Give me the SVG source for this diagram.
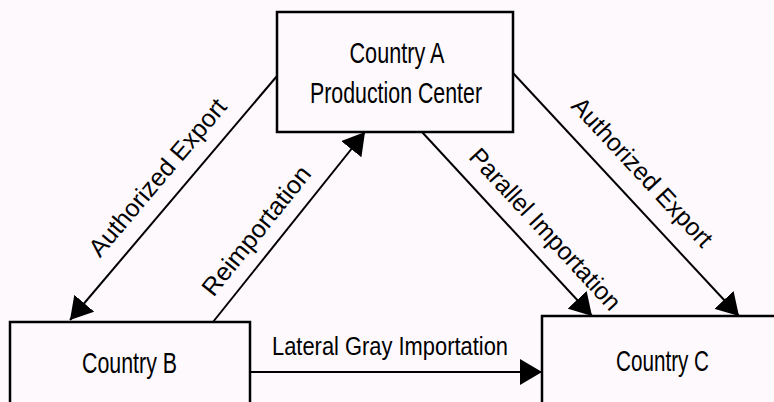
<svg xmlns="http://www.w3.org/2000/svg" width="774" height="402" viewBox="0 0 774 402">
<style>
.box{fill:none;stroke:#000;stroke-width:2.5}
.edge{fill:none;stroke:#000;stroke-width:2}
.nl{font-family:"Liberation Sans","DejaVu Sans",sans-serif;font-size:30px;fill:#000;text-anchor:middle}
.el{font-family:"Liberation Sans","DejaVu Sans",sans-serif;font-size:25px;fill:#000;text-anchor:middle}
</style>
<defs>
<marker id="ah" viewBox="0 0 22 26" refX="22" refY="13" markerWidth="22" markerHeight="26" markerUnits="userSpaceOnUse" orient="auto">
<path d="M0,0 L22,13 L0,26 Z" fill="#000"/>
</marker>
</defs>
<rect x="0" y="0" width="774" height="402" fill="#fdf9fd"/>
<g id="nodeA">
<rect class="box" x="277" y="12" width="236" height="120"/>
<text class="nl" x="397" y="63" textLength="95" lengthAdjust="spacingAndGlyphs">Country A</text>
<text class="nl" x="396" y="103" textLength="172" lengthAdjust="spacingAndGlyphs">Production Center</text>
</g>
<g id="nodeB">
<rect class="box" x="10" y="322" width="240" height="100"/>
<text class="nl" x="129.5" y="373" textLength="95" lengthAdjust="spacingAndGlyphs">Country B</text>
</g>
<g id="nodeC">
<rect class="box" x="542" y="316" width="260" height="100"/>
<text class="nl" x="662.5" y="371" textLength="93" lengthAdjust="spacingAndGlyphs">Country C</text>
</g>
<g id="connectors">
<path class="edge" d="M277,76 L70,320" marker-end="url(#ah)"/>
<path class="edge" d="M213,322 L365,132" marker-end="url(#ah)"/>
<path class="edge" d="M422,132 L592,316" marker-end="url(#ah)"/>
<path class="edge" d="M513,73 L739,316" marker-end="url(#ah)"/>
<path class="edge" d="M250,372 L542,372" marker-end="url(#ah)"/>
<text class="el" transform="translate(164,183) rotate(-49.7)" x="0" y="0" textLength="198" lengthAdjust="spacingAndGlyphs">Authorized Export</text>
<text class="el" transform="translate(263,236) rotate(-51.3)" x="0" y="0" textLength="158" lengthAdjust="spacingAndGlyphs">Reimportation</text>
<text class="el" transform="translate(539,235) rotate(47.3)" x="0" y="0" textLength="210" lengthAdjust="spacingAndGlyphs">Parallel Importation</text>
<text class="el" transform="translate(636,178) rotate(47.1)" x="0" y="0" textLength="194" lengthAdjust="spacingAndGlyphs">Authorized Export</text>
<text class="el" x="390" y="355" textLength="236" lengthAdjust="spacingAndGlyphs">Lateral Gray Importation</text>
</g>
</svg>
